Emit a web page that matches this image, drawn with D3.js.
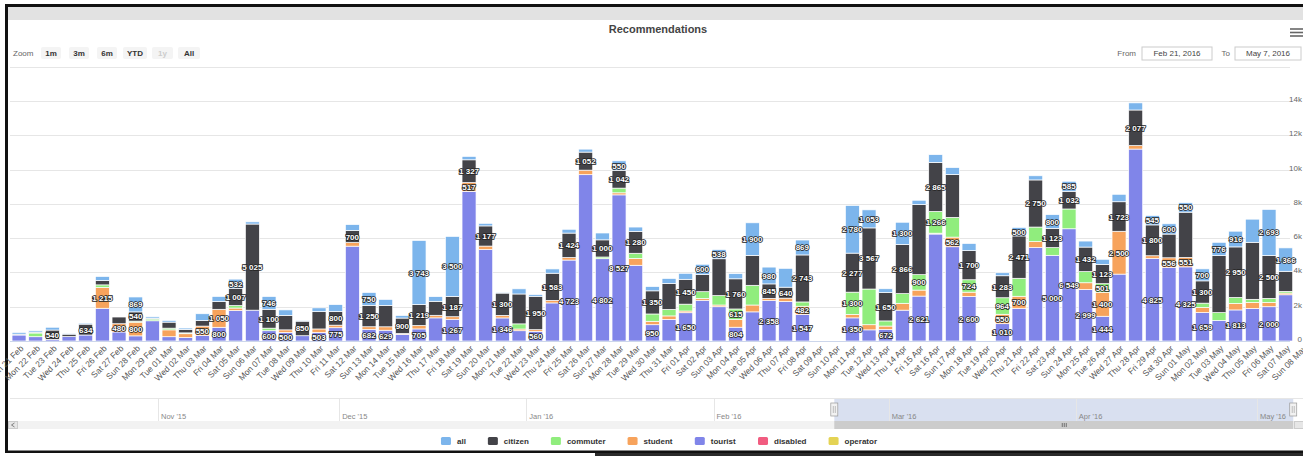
<!DOCTYPE html>
<html>
<head>
<meta charset="utf-8">
<script src="https://cdn.jsdelivr.net/npm/d3@7"></script>
<style>
  body { margin: 0; background: #fff; }
  svg { display: block; font-family: "Liberation Sans", Arial, sans-serif; }
</style>
</head>
<body>
<svg width="1303" height="456"></svg>
<script>
// categories (one per day, Sun 21 Feb .. Sun 08 May)
var dates = [
  "Sun 21 Feb","Mon 22 Feb","Tue 23 Feb","Wed 24 Feb","Thu 25 Feb","Fri 26 Feb","Sat 27 Feb","Sun 28 Feb","Mon 29 Feb",
  "Tue 01 Mar","Wed 02 Mar","Thu 03 Mar","Fri 04 Mar","Sat 05 Mar","Sun 06 Mar","Mon 07 Mar","Tue 08 Mar","Wed 09 Mar","Thu 10 Mar",
  "Fri 11 Mar","Sat 12 Mar","Sun 13 Mar","Mon 14 Mar","Tue 15 Mar","Wed 16 Mar","Thu 17 Mar","Fri 18 Mar","Sat 19 Mar","Sun 20 Mar",
  "Mon 21 Mar","Tue 22 Mar","Wed 23 Mar","Thu 24 Mar","Fri 25 Mar","Sat 26 Mar","Sun 27 Mar","Mon 28 Mar","Tue 29 Mar","Wed 30 Mar","Thu 31 Mar",
  "Fri 01 Apr","Sat 02 Apr","Sun 03 Apr","Mon 04 Apr","Tue 05 Apr","Wed 06 Apr","Thu 07 Apr","Fri 08 Apr","Sat 09 Apr","Sun 10 Apr",
  "Mon 11 Apr","Tue 12 Apr","Wed 13 Apr","Thu 14 Apr","Fri 15 Apr","Sat 16 Apr","Sun 17 Apr","Mon 18 Apr","Tue 19 Apr","Wed 20 Apr",
  "Thu 21 Apr","Fri 22 Apr","Sat 23 Apr","Sun 24 Apr","Mon 25 Apr","Tue 26 Apr","Wed 27 Apr","Thu 28 Apr","Fri 29 Apr","Sat 30 Apr",
  "Sun 01 May","Mon 02 May","Tue 03 May","Wed 04 May","Thu 05 May","Fri 06 May","Sat 07 May","Sun 08 May"
];

// series values (null = no data that day)
var tourist = [350,250,100,260,350,1910,528,300,1180,250,
  200,320,800,1773,1800,600,500,308,503,775,
  5534,682,629,389,705,1350,1267,8729,5333,1346,
  600,560,2222,4723,9705,4802,8527,4419,950,1264,
  1650,2377,2000,804,1700,2358,2300,1547,null,null,
  1350,650,672,1800,2621,6242,5500,2600,null,1010,
  1910,5449,5000,6549,2999,1444,3903,11200,4825,4300,
  4325,1659,1200,1813,1900,2000,2697,null];
var student = [0,0,0,0,0,1215,480,800,0,400,
  225,550,1050,150,0,0,150,0,200,150,
  210,150,200,50,200,150,150,517,206,150,
  100,100,150,150,265,0,120,400,200,200,
  100,100,100,450,400,129,200,482,null,null,
  200,300,200,400,350,50,562,250,null,550,
  700,350,0,0,400,1400,2500,203,150,556,
  551,300,0,378,350,250,100,null];
var commuter = [0,217,0,0,0,150,0,60,100,100,
  50,0,0,148,0,150,0,0,0,0,
  0,0,0,0,0,0,0,0,0,0,
  300,0,0,0,0,100,274,300,427,377,
  400,400,550,615,1150,0,0,250,null,null,
  1300,2083,300,563,900,1266,1150,724,null,964,
  1050,850,450,1155,650,501,0,0,0,0,
  0,250,455,350,182,237,100,null];
var citizen = [50,50,540,140,634,250,400,540,50,351,
  200,320,450,1007,5025,1100,846,850,1009,800,
  700,1250,1250,900,1219,816,1187,1327,1177,1300,
  1744,1950,1583,1424,1052,1000,1042,1280,1350,1518,
  1450,1000,2150,1760,1747,845,640,2743,null,null,
  2277,3567,1650,2866,4092,2865,2500,1700,null,1283,
  2471,2750,1123,1032,1432,1123,1723,2077,1800,1383,
  2641,1300,3328,2950,3327,2500,1170,null];
var all = [100,80,162,50,60,240,30,869,80,100,
  80,400,300,532,127,746,319,50,222,400,
  350,750,350,150,3743,272,3500,200,150,50,
  300,100,250,222,173,400,550,250,250,291,
  350,600,538,300,1900,980,1100,869,null,null,
  2780,1053,227,1300,250,450,408,418,null,175,
  500,242,800,585,350,300,435,415,545,600,
  550,700,776,916,1350,2693,1366,null];
var disabled = [0,0,0,0,0,0,0,0,0,0, 0,0,0,0,0,0,0,0,0,0, 0,0,0,0,0,0,0,0,0,0, 0,0,0,0,0,0,0,0,0,0,
  0,0,0,0,0,0,0,0,null,null, 0,0,0,0,0,0,0,0,null,0, 0,0,0,0,0,0,0,0,0,0, 0,0,0,0,0,0,0,null];
var operator = [0,0,0,0,0,0,0,0,0,0, 0,0,0,0,0,0,0,0,0,0, 0,0,0,0,0,0,0,0,0,0, 0,0,0,0,0,0,0,0,0,0,
  0,0,0,0,0,0,0,0,null,null, 0,0,0,0,0,0,0,0,null,0, 0,0,0,0,0,0,0,0,0,0, 0,0,0,0,0,0,0,null];

var yTicks = [0, 2000, 4000, 6000, 8000, 10000, 12000, 14000, 16000];
var yTickLabels = ["0", "2k", "4k", "6k", "8k", "10k", "12k", "14k", ""];
var legendNames = ["all", "citizen", "commuter", "student", "tourist", "disabled", "operator"];
var legendColors = ["#7cb5ec", "#434348", "#90ed7d", "#f7a35c", "#8085e9", "#f15c80", "#e4d354"];
var zoomButtons = ["1m", "3m", "6m", "YTD", "1y", "All"];
var navMonths = [new Date(2015,10,1), new Date(2015,11,1), new Date(2016,0,1), new Date(2016,1,1),
  new Date(2016,2,1), new Date(2016,3,1), new Date(2016,4,1)];
var rangeFrom = new Date(2016,1,21), rangeTo = new Date(2016,4,7);

var series = {all: all, citizen: citizen, commuter: commuter, student: student,
  tourist: tourist, disabled: disabled, operator: operator};
// bottom to top
var stackKeys = ["operator", "disabled", "tourist", "student", "commuter", "citizen", "all"];
var color = d3.scaleOrdinal().domain(legendNames).range(legendColors);

var rows = dates.map(function(d, i) {
  var r = {date: d, empty: tourist[i] === null};
  stackKeys.forEach(function(k) { r[k] = series[k][i] || 0; });
  return r;
});

var svg = d3.select("svg");
var plot = {left: 10, right: 1290, top: 66.8, bottom: 341};

var x = d3.scaleBand()
    .domain(dates)
    .range([10.7, 1310.7])
    .paddingInner(0.16)
    .paddingOuter(0.08);

var y = d3.scaleLinear()
    .domain([0, 16000])
    .range([plot.bottom, plot.top]);

function fmt(v) {
  if (v >= 1000) return Math.floor(v / 1000) + " " + String(v % 1000).padStart(3, "0");
  return String(v);
}

// frame of the screenshot
svg.append("rect").attr("x", 0).attr("y", 0).attr("width", 1303).attr("height", 456).attr("fill", "#fff");
svg.append("rect").attr("x", 8).attr("y", 7).attr("width", 1295).attr("height", 13).attr("fill", "#e2e2e2");
svg.append("rect").attr("x", 5).attr("y", 4).attr("width", 1298).attr("height", 3).attr("fill", "#111");
svg.append("rect").attr("x", 5).attr("y", 4).attr("width", 3).attr("height", 449).attr("fill", "#111");
svg.append("rect").attr("x", 5).attr("y", 450.5).attr("width", 1298).attr("height", 2.5).attr("fill", "#111");
svg.append("rect").attr("x", 595).attr("y", 453).attr("width", 708).attr("height", 3).attr("fill", "#2a2a2a");

// title + menu
svg.append("text")
  .attr("x", 658).attr("y", 33)
  .attr("text-anchor", "middle")
  .attr("font-size", 11).attr("font-weight", "bold").attr("fill", "#444")
  .text("Recommendations");
[29, 32.5, 36].forEach(function(yy) {
  svg.append("line").attr("x1", 1290).attr("x2", 1303).attr("y1", yy).attr("y2", yy)
    .attr("stroke", "#666").attr("stroke-width", 1.6);
});

// range selector
svg.append("text").attr("x", 13).attr("y", 56).attr("font-size", 8).attr("fill", "#666").text("Zoom");
var btnX = [41, 69, 97, 123, 152, 178], btnW = [20, 20, 20, 24, 21, 22];
zoomButtons.forEach(function(b, i) {
  svg.append("rect").attr("x", btnX[i]).attr("y", 47).attr("width", btnW[i]).attr("height", 12)
    .attr("rx", 2).attr("fill", "#f4f4f4");
  svg.append("text").attr("x", btnX[i] + btnW[i] / 2).attr("y", 56)
    .attr("text-anchor", "middle").attr("font-size", 8).attr("font-weight", "bold")
    .attr("fill", b === "1y" ? "#ccc" : "#333").text(b);
});
svg.append("text").attr("x", 1136).attr("y", 56).attr("text-anchor", "end").attr("font-size", 8).attr("fill", "#666").text("From");
svg.append("rect").attr("x", 1142).attr("y", 47).attr("width", 70).attr("height", 13).attr("fill", "#fff").attr("stroke", "#ccc");
svg.append("text").attr("x", 1177).attr("y", 56).attr("text-anchor", "middle").attr("font-size", 8).attr("fill", "#444").text(d3.timeFormat("%b %-d, %Y")(rangeFrom));
svg.append("text").attr("x", 1230).attr("y", 56).attr("text-anchor", "end").attr("font-size", 8).attr("fill", "#666").text("To");
svg.append("rect").attr("x", 1235).attr("y", 47).attr("width", 66).attr("height", 13).attr("fill", "#fff").attr("stroke", "#ccc");
svg.append("text").attr("x", 1268).attr("y", 56).attr("text-anchor", "middle").attr("font-size", 8).attr("fill", "#444").text(d3.timeFormat("%b %-d, %Y")(rangeTo));

// grid + y labels
svg.append("g").selectAll("line")
  .data(yTicks)
  .enter().append("line")
    .attr("x1", plot.left).attr("x2", plot.right)
    .attr("y1", function(d) { return Math.round(y(d)) + 0.5; })
    .attr("y2", function(d) { return Math.round(y(d)) + 0.5; })
    .attr("stroke", "#e6e6e6");
svg.append("g").selectAll("text")
  .data(yTicks)
  .enter().append("text")
    .attr("x", 1302)
    .attr("y", function(d) { return y(d) + 1; })
    .attr("text-anchor", "end")
    .attr("font-size", 8).attr("fill", "#666")
    .text(function(d, i) { return yTickLabels[i]; });

// stacked columns
var stacked = d3.stack().keys(stackKeys)(rows);
var layer = svg.append("g").selectAll("g")
  .data(stacked)
  .enter().append("g")
    .attr("fill", function(d) { return color(d.key); });
layer.selectAll("rect")
  .data(function(d) { return d.filter(function(s) { return !s.data.empty && s[1] > s[0]; }); })
  .enter().append("rect")
    .attr("x", function(d) { return x(d.data.date); })
    .attr("y", function(d) { return y(d[1]); })
    .attr("width", x.bandwidth())
    .attr("height", function(d) { return y(d[0]) - y(d[1]); })
    .attr("stroke", "#fff").attr("stroke-width", 0.7);

// data labels, overlapping ones are hidden (first placed wins)
var labels = [], boxes = [];
stacked.slice().reverse().forEach(function(s) {
  s.forEach(function(d) {
    if (d.data.empty) return;
    var h = y(d[0]) - y(d[1]);
    if (h < 8) return;
    var v = d[1] - d[0], txt = fmt(v);
    var cx = x(d.data.date) + x.bandwidth() / 2, cy = (y(d[0]) + y(d[1])) / 2;
    var w = txt.length * 4.6 + 2;
    var b = {x0: cx - w / 2, x1: cx + w / 2, y0: cy - 5, y1: cy + 5};
    var hit = boxes.some(function(o) { return b.x0 < o.x1 && b.x1 > o.x0 && b.y0 < o.y1 && b.y1 > o.y0; });
    if (hit) return;
    boxes.push(b);
    labels.push({x: cx, y: cy, t: txt});
  });
});
svg.append("g").selectAll("text")
  .data(labels)
  .enter().append("text")
    .attr("x", function(d) { return d.x; })
    .attr("y", function(d) { return d.y + 3; })
    .attr("text-anchor", "middle")
    .attr("font-size", 8).attr("font-weight", "bold")
    .attr("fill", "#fff").attr("stroke", "#222").attr("stroke-width", 1.6)
    .attr("paint-order", "stroke")
    .text(function(d) { return d.t; });

// x axis labels
svg.append("line").attr("x1", plot.left).attr("x2", plot.right).attr("y1", 341.5).attr("y2", 341.5).attr("stroke", "#ccd6eb");
svg.append("g").selectAll("text")
  .data(dates)
  .enter().append("text")
    .attr("transform", function(d) { return "translate(" + (x(d) + x.bandwidth() / 2 + 5) + ",349) rotate(-45)"; })
    .attr("text-anchor", "end")
    .attr("font-size", 8.5).attr("fill", "#555")
    .text(function(d) { return d; });

// navigator
var nav = d3.scaleTime().domain([navMonths[0], navMonths[6]]).range([158, 1257]);
svg.append("line").attr("x1", 10).attr("x2", 1303).attr("y1", 398.5).attr("y2", 398.5).attr("stroke", "#e6e6e6");
svg.append("rect").attr("x", nav(rangeFrom)).attr("y", 399).attr("width", nav(rangeTo) - nav(rangeFrom)).attr("height", 22)
  .attr("fill", "rgba(102,133,194,0.25)");
svg.append("g").selectAll("line")
  .data(navMonths)
  .enter().append("line")
    .attr("x1", function(d) { return Math.round(nav(d)) + 0.5; })
    .attr("x2", function(d) { return Math.round(nav(d)) + 0.5; })
    .attr("y1", 399).attr("y2", 421)
    .attr("stroke", "#e6e6e6");
svg.append("g").selectAll("text")
  .data(navMonths)
  .enter().append("text")
    .attr("x", function(d) { return nav(d) + 3; })
    .attr("y", 419)
    .attr("font-size", 7.5).attr("fill", "#888")
    .text(d3.timeFormat("%b '%y"));
[rangeFrom, rangeTo].forEach(function(d) {
  svg.append("rect").attr("x", nav(d) - 3.5).attr("y", 403).attr("width", 7).attr("height", 13)
    .attr("fill", "#f2f2f2").attr("stroke", "#999").attr("stroke-width", 0.7);
  svg.append("line").attr("x1", nav(d) - 1).attr("x2", nav(d) - 1).attr("y1", 406).attr("y2", 413).attr("stroke", "#999").attr("stroke-width", 0.6);
  svg.append("line").attr("x1", nav(d) + 1).attr("x2", nav(d) + 1).attr("y1", 406).attr("y2", 413).attr("stroke", "#999").attr("stroke-width", 0.6);
});

// scrollbar
svg.append("rect").attr("x", 8).attr("y", 421).attr("width", 1295).attr("height", 8).attr("fill", "#f2f2f2");
svg.append("rect").attr("x", nav(rangeFrom)).attr("y", 421).attr("width", nav(rangeTo) - nav(rangeFrom)).attr("height", 8).attr("fill", "#cccccc");
svg.append("rect").attr("x", 8.5).attr("y", 421.5).attr("width", 9).attr("height", 7).attr("fill", "#e6e6e6").attr("stroke", "#ccc");
svg.append("path").attr("d", "M14.5,423 L11.5,425 L14.5,427").attr("fill", "none").attr("stroke", "#666").attr("stroke-width", 0.8);
svg.append("rect").attr("x", 1294.5).attr("y", 421.5).attr("width", 9).attr("height", 7).attr("fill", "#e6e6e6").attr("stroke", "#ccc");
var mid = (nav(rangeFrom) + nav(rangeTo)) / 2;
[-2, 0, 2].forEach(function(o) {
  svg.append("line").attr("x1", mid + o + 0.5).attr("x2", mid + o + 0.5).attr("y1", 423).attr("y2", 427).attr("stroke", "#333").attr("stroke-width", 0.6);
});

// legend
var legend = svg.append("g")
    .attr("font-size", 8).attr("font-weight", "bold")
  .selectAll("g")
  .data(legendNames)
  .enter().append("g");
legend.append("rect")
  .attr("y", 437).attr("width", 10).attr("height", 8).attr("rx", 1.5)
  .attr("fill", color);
legend.append("text")
  .attr("x", 16).attr("y", 444)
  .attr("fill", "#333")
  .text(function(d) { return d; });
var widths = [];
legend.each(function() { widths.push(this.getBBox().width); });
var total = d3.sum(widths) + 22 * (widths.length - 1), lx = 659 - total / 2;
legend.attr("transform", function(d, i) {
  var t = "translate(" + lx + ",0)";
  lx += widths[i] + 22;
  return t;
});
</script>
</body>
</html>
